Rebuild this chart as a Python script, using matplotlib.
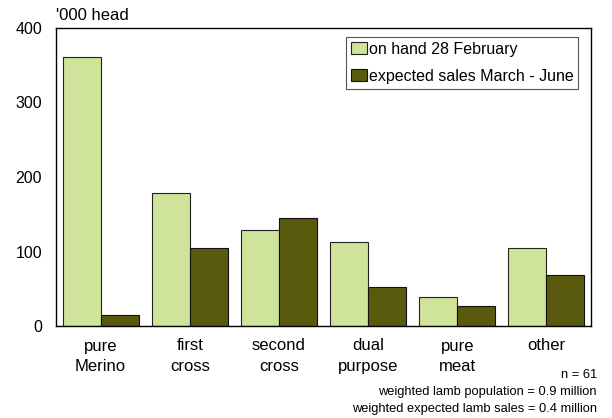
import matplotlib
matplotlib.use("Agg")
import matplotlib.pyplot as plt
import numpy as np

categories = ["pure\nMerino", "first\ncross", "second\ncross", "dual\npurpose", "pure\nmeat", "other"]
on_hand = [361, 178, 129, 113, 39, 105]
expected_sales = [15, 105, 145, 52, 27, 69]
labels = ["on hand 28 February", "expected sales March - June"]
notes = ["n = 61", "weighted lamb population = 0.9 million",
         "weighted expected lamb sales = 0.4 million"]

plt.rcParams['font.family'] = ['Liberation Sans', 'DejaVu Sans']

fig = plt.figure(figsize=(6.12, 4.18), dpi=100)
ax = fig.add_axes([56 / 612, 1 - 326 / 418, 535 / 612, 298 / 418])

light = '#d0e39b'
dark = '#5a5a0e'
w = 0.427
x = np.arange(len(categories))
ax.bar(x - w / 2, on_hand, width=w, color=light, edgecolor='#222222', linewidth=0.8, label=labels[0])
ax.bar(x + w / 2, expected_sales, width=w, color=dark, edgecolor='#111111', linewidth=0.8, label=labels[1])

ax.set_xlim(-0.5, len(categories) - 0.5)
ax.set_ylim(0, 400)
ax.set_yticks([0, 100, 200, 300, 400])
ax.set_xticks(x)
ax.set_xticklabels(categories, fontsize=12, linespacing=1.45)
ax.tick_params(axis='both', length=0)
ax.tick_params(axis='y', labelsize=11.5, pad=10)
ax.tick_params(axis='x', pad=9)
for s in ax.spines.values():
    s.set_linewidth(1.0)

fig.text(56 / 612, 1 - 16 / 418, "'000 head", fontsize=12, ha='left', va='center')

leg = ax.legend(loc='upper right', bbox_to_anchor=(0.976, 0.970), borderaxespad=0,
                fontsize=11.5, handlelength=1.0, handleheight=0.75, handletextpad=0.1,
                fancybox=False, edgecolor='#555555', framealpha=1,
                borderpad=0.3, labelspacing=0.75)
leg.get_frame().set_linewidth(0.8)

ys = [375, 392, 409]
for t, yy in zip(notes, ys):
    fig.text(597 / 612, 1 - yy / 418, t, fontsize=9.3, ha='right', va='center')

fig.savefig("out.png", dpi=100)
